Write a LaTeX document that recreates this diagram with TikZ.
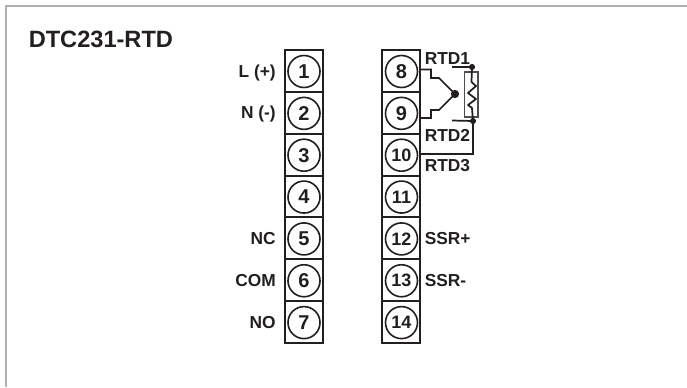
\documentclass[tikz,border=0pt]{standalone}
\usepackage{fontspec}
\setmainfont{Liberation Sans}
\tikzset{
  px/.style={x=0.75pt,y=-0.75pt},
  term/.style={circle,draw=ink,line width=1.2pt,minimum size=24pt,inner sep=0pt,font=\fontsize{15pt}{16pt}\selectfont\bfseries,text=ink},
  termtwo/.style={term,font=\fontsize{13.5pt}{15pt}\selectfont\bfseries},
  cell/.style={draw=ink,line width=1.5pt,minimum width=28.5pt,minimum height=31.4pt,inner sep=0pt},
  lab/.style={font=\fontsize{13pt}{14pt}\selectfont\bfseries,text=ink,inner sep=0pt},
  wire/.style={draw=ink,line width=1.3pt},
  dotn/.style={circle,fill=ink,inner sep=0pt,minimum size=4.6pt},
}
\definecolor{ink}{HTML}{231F20}
\definecolor{framegray}{HTML}{B0B0B0}
\begin{document}
\begin{tikzpicture}[px]
\useasboundingbox (0,0) rectangle (687,387);
\fill[white] (0,0) rectangle (687,387);
\draw[framegray,line width=1.5pt] (687,6) -- (6,6) -- (6,387);
\node[anchor=base west,font=\fontsize{17.7pt}{20pt}\selectfont\bfseries,text=ink,inner sep=0pt] (title) at (28.5,47) {DTC231-RTD};
% left terminal strip
\foreach \n [count=\i from 0] in {1,...,7} {
  \node[cell] (c\n) at (304,{71+41.85*\i}) {};
  \node[term] (t\n) at (304,{71.5+41.85*\i}) {\n};
}
% right terminal strip
\foreach \n [count=\i from 0] in {8,9} {
  \node[cell] (c\n) at (401,{71+41.85*\i}) {};
  \node[term] (t\n) at (401.5,{71.5+41.85*\i}) {\n};
}
\foreach \n [count=\i from 2] in {10,...,14} {
  \node[cell] (c\n) at (401,{71+41.85*\i}) {};
  \node[termtwo] (t\n) at (401.5,{71.5+41.85*\i}) {\n};
}
% left labels
\node[lab,anchor=east] (lL) at (276,73) {L (+)};
\node[lab,anchor=east] (lN) at (276,114.5) {N (-)};
\node[lab,anchor=east] (lNC) at (276,239) {NC};
\node[lab,anchor=east] (lCOM) at (276,281) {COM};
\node[lab,anchor=east] (lNO) at (276,322.5) {NO};
% right labels
\node[lab,anchor=west] (r1) at (424.5,58.5) {RTD1};
\node[lab,anchor=west] (r2) at (424.5,135) {RTD2};
\node[lab,anchor=west] (r3) at (424.5,165.5) {RTD3};
\node[lab,anchor=west] (rp) at (424.5,238.5) {SSR+};
\node[lab,anchor=west] (rm) at (424.5,281) {SSR-};
% RTD wiring
\node[dotn,minimum size=6.2pt] (mid) at (455,94) {};
\node[dotn] (top) at (472,67) {};
\node[dotn] (bot) at (473,121) {};
\coordinate (w8) at (420,69.5);
\coordinate (w9) at (420,118);
\coordinate (w10) at (420,154);
\coordinate (tl) at (452,67);
\coordinate (bl) at (452,120.5);
\draw[wire] (w8) -- (431,69.5) -- (431,78) -- (439,78) -- (mid.center);
\draw[wire] (w9) -- (431,118) -- (431,110) -- (439,110) -- (mid.center);
\draw[wire] (tl) -- (top.center);
\draw[wire] (bl) -- (bot.center);
\draw[draw=ink!80,line width=0.8pt] (464.5,72) rectangle (478,117);
\draw[wire,line join=round] (top.center) -- (471.5,82) -- (476,86) -- (468,93) -- (476,99) -- (468,105) -- (472,108) -- (bot.center);
\draw[wire] (bot.center) -- (473,154) -- (w10);
\end{tikzpicture}
\end{document}
